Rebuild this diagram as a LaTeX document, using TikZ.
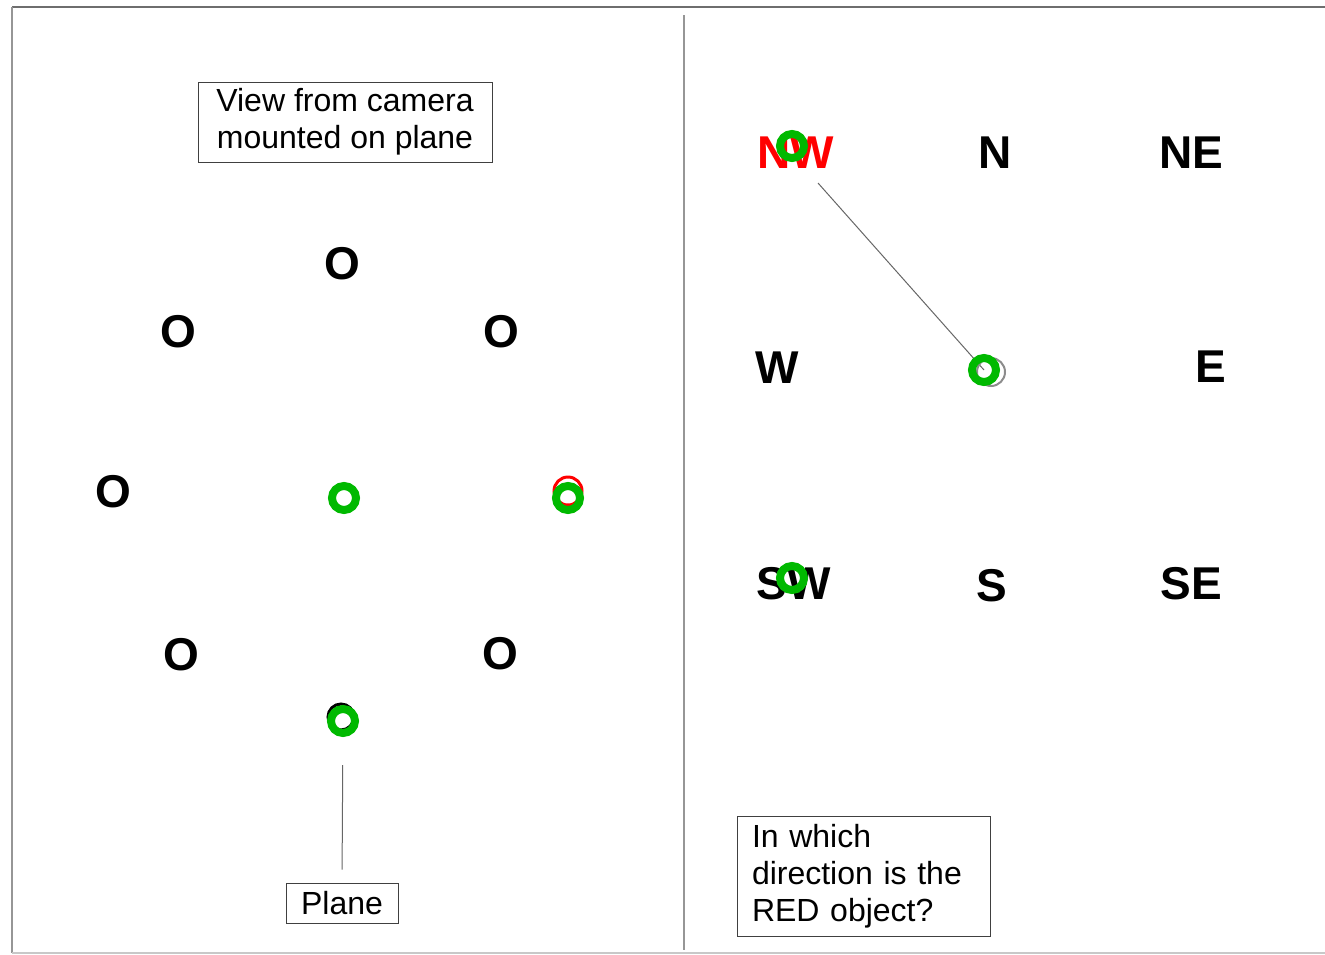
\documentclass[tikz,border=0pt]{standalone}
\usepackage{fontspec}
\setmainfont{Liberation Sans}
\definecolor{ringgreen}{RGB}{0,185,0}
\definecolor{framegray}{RGB}{110,110,110}
\definecolor{lightframe}{RGB}{200,200,200}
\definecolor{divgray}{RGB}{150,150,150}
\begin{document}
\begin{tikzpicture}[x=1pt,y=-1pt,
  big/.style={font=\fontsize{46}{54}\selectfont\bfseries, inner sep=0pt},
  lbl/.style={draw=black!75, line width=1pt, font=\fontsize{32}{37}\selectfont, inner sep=0pt},
  ring/.style={draw=ringgreen, line width=8pt, circle, minimum size=24pt, inner sep=0pt},
  hidden/.style={circle, line width=3pt, minimum size=28pt, inner sep=0pt},
  conn/.style={draw=black!60, line width=1pt}
]
\useasboundingbox (0,0) rectangle (1325,954);
% frame
\coordinate (ftl) at (12,7);
\coordinate (ftr) at (1325,7);
\coordinate (fbl) at (12,953);
\coordinate (fbr) at (1325,953);
\draw[framegray, line width=2.5pt] (ftl) -- (ftr);
\draw[divgray, line width=2.5pt] (ftl) -- (fbl);
\draw[lightframe, line width=2pt] (fbl) -- (fbr);
\coordinate (dtop) at (684,15);
\coordinate (dbot) at (684,950);
\draw[divgray, line width=2pt] (dtop) -- (dbot);

% left panel
\node[lbl, minimum width=294pt, minimum height=80pt, align=center] (view) at (345,122) {View from camera\\mounted on plane};
\node[big] (o1) at (342,264) {O};
\node[big] (o2) at (178,332) {O};
\node[big] (o3) at (501,332) {O};
\node[big] (o4) at (113,492) {O};
\node[big] (o5) at (181,655) {O};
\node[big] (o6) at (500,654) {O};
\node[hidden, draw=red] (redobj) at (568,491) {};
\node[hidden, draw=black, minimum size=26pt] (planeobj) at (341,717) {};
\node[ring] (r1) at (344,498) {};
\node[ring] (r2) at (568,498) {};
\node[ring] (r3) at (343,721) {};
\node[lbl, minimum width=112pt, minimum height=40pt] (plane) at (342,903) {Plane};
\draw[conn, shorten <=44pt, shorten >=13pt] (r3.center) -- (plane.north);

% right panel
\node[big, text=red] (nw) at (796,153) {NW};
\node[big] (n) at (995,153) {N};
\node[big] (ne) at (1191,153) {NE};
\node[big] (w) at (777,368) {W};
\node[big] (e) at (1211,367) {E};
\node[big] (sw) at (794,584) {SW};
\node[big] (s) at (992,586) {S};
\node[big] (se) at (1191,584) {SE};
\coordinate (lineA) at (818,183);
\coordinate (cc) at (984,370);
\draw[conn] (lineA) -- (cc);
\node[hidden, draw=black!45, line width=2pt, minimum size=28pt] (cobj) at (991,372) {};
\node[ring] (r4) at (792,146) {};
\node[ring] (r5) at (cc) {};
\node[ring] (r6) at (792,578) {};
\node[lbl, minimum width=253pt, minimum height=120pt, text width=223pt, align=left, inner xsep=15pt] (q) at (863.5,876) {In which\\direction is the\\RED object?};
\end{tikzpicture}
\end{document}
